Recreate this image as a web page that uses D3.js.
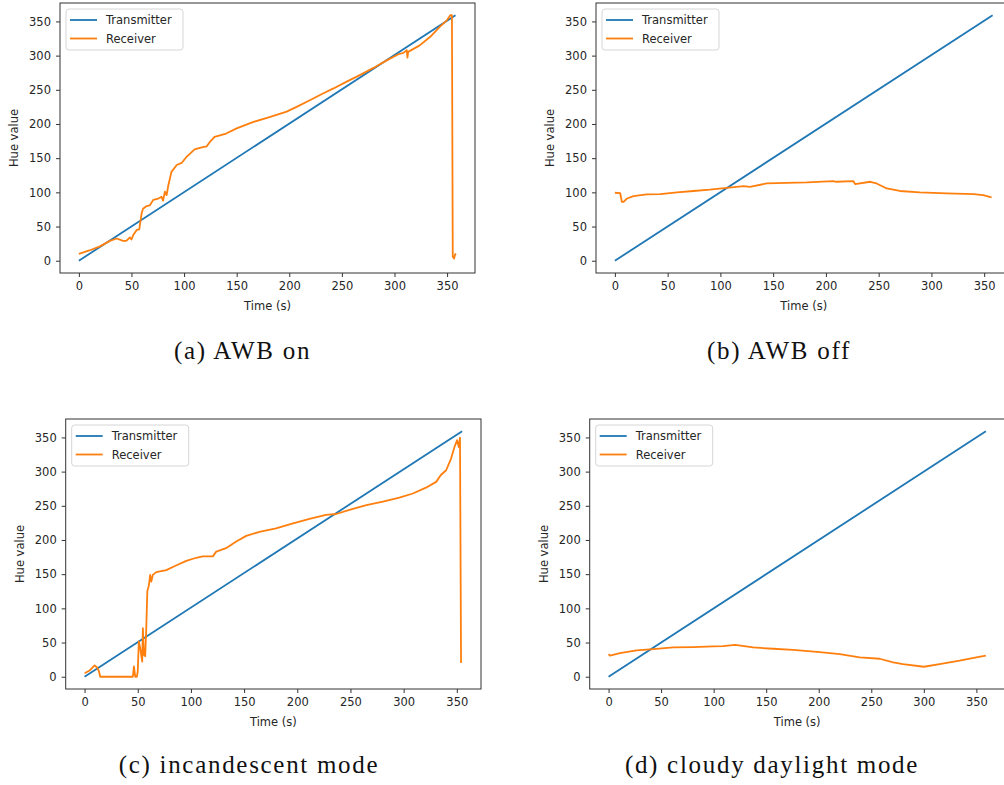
<!DOCTYPE html>
<html>
<head>
<meta charset="utf-8">
<script src="https://cdn.jsdelivr.net/npm/d3@7"></script>
<style>
  body { margin: 0; background: #fff; }
  svg { display: block; }
  .tick text { font-family: "DejaVu Sans", sans-serif; font-size: 11.5px; fill: #262626; }
  .tick line { stroke: #333; }
  .lbl { font-family: "DejaVu Sans", sans-serif; font-size: 11.5px; fill: #262626; }
  .caption { font-family: "Liberation Serif", serif; font-size: 25px; fill: #111; letter-spacing: 1.7px; }
</style>
</head>
<body>
<svg id="chart" width="1004" height="785"></svg>
<script>
// Hue of transmitter vs receiver over time, four camera white-balance modes.

const TICKS = [0, 50, 100, 150, 200, 250, 300, 350];
const SERIES = ["Transmitter", "Receiver"];
const COLORS = ["#1f77b4", "#ff7f0e"];

// (a) AWB on
const A_TX_T = [0, 358];
const A_TX_H = [0, 359];
const A_RX_T = [0, 10, 20, 29.5, 36, 42, 45, 48.5, 50, 51.7, 55, 57.4, 59.6, 61, 64.4, 67.5, 70.7, 75.5, 78.6, 80, 81.8, 83.4, 85, 88, 93, 97.7, 102.4, 110, 115, 120, 121.4, 124.6, 129, 140, 150, 166, 182, 197.5, 207, 220, 232, 242, 254.6, 267, 280, 292.6, 303.7, 308.5, 311.7, 312.3, 313, 324, 334, 343, 350, 353, 354.6, 355.4, 356.7, 357.5, 358.6];
const A_RX_H = [10, 15, 21, 29, 32.5, 29, 29, 34, 31, 37.5, 45, 46, 69, 76, 80, 81, 89, 91, 93.5, 88, 101, 96, 110, 130, 140, 143, 152, 163, 165, 167, 167, 174, 181, 186, 193.5, 203, 210.5, 218, 225, 235, 244.6, 252, 262, 271.5, 282, 293, 302, 304, 308, 297, 305.5, 315, 327.5, 342, 352, 359, 359, 6, 3, 9, 10];

// (b) AWB off
const B_TX_T = [0, 358];
const B_TX_H = [0, 359];
const B_RX_T = [0, 5, 6.6, 8.2, 11.4, 17.7, 30, 43, 58.8, 74.5, 90, 106, 122, 128, 144, 163, 182, 207, 210, 226, 227.7, 242, 248, 257.7, 270, 289, 314.6, 340, 349, 357];
const B_RX_H = [99.4, 99, 86, 86, 91, 94.5, 97, 97.5, 100, 102, 104, 106.7, 109, 108, 113, 114, 114.5, 116.5, 115.5, 116.5, 112, 115.5, 113, 105.7, 102, 100, 98.4, 97.5, 96, 92.6];

// (c) incandescent mode
const C_TX_T = [0, 355];
const C_TX_H = [0, 359];
const C_RX_T = [0, 4.7, 9.4, 11.6, 13.5, 14.7, 30, 45.4, 46.4, 47.6, 49.2, 50, 51, 52.3, 54.2, 54.8, 55.8, 57, 58, 59, 60.5, 61.7, 62.7, 64.2, 67.4, 76.8, 86, 95.6, 105, 111, 120.6, 123.8, 133, 142.6, 152, 164.5, 180, 196, 211.5, 227, 236.6, 249, 265, 280.5, 296, 308.7, 321, 330.6, 335, 340, 344.6, 347.8, 350.3, 351.9, 353, 354];
const C_RX_H = [5, 9, 16.5, 14, 8, 0, 0, 0, 15, 0, 0, 8, 51.6, 42, 22, 71, 32, 30, 71, 125, 134, 149, 139, 149, 153, 156, 162.6, 169.4, 174, 176, 176, 183, 188, 197.7, 206, 212, 217, 224.4, 230.8, 236.6, 238, 244, 251, 256, 262, 268, 276.5, 285, 295, 302, 319, 336, 346, 336, 349.6, 20];

// (d) cloudy daylight mode
const D_TX_T = [0, 359];
const D_TX_H = [0, 359];
const D_RX_T = [0, 1.3, 10.8, 26.6, 42.5, 61.5, 80.5, 99.6, 109, 120.5, 137.6, 156.6, 175.6, 201, 220, 239, 258, 270.8, 280, 300, 315, 334, 350, 359];
const D_RX_H = [33, 31, 34.6, 38.5, 40.4, 42.8, 43.3, 44.3, 44.8, 46.7, 42.8, 40.9, 39.4, 36, 33, 28.2, 26.3, 21, 18.5, 14.6, 18.5, 23.4, 28.2, 31];

const CAPTIONS = ["(a) AWB on", "(b) AWB off", "(c) incandescent mode", "(d) cloudy daylight mode"];

const panels = [
  { left: 60,    top: 3,   w: 415,   caption: CAPTIONS[0], capX: 242.5, capY: 359, tx: [A_TX_T, A_TX_H], rx: [A_RX_T, A_RX_H] },
  { left: 596,   top: 3,   w: 415.5, caption: CAPTIONS[1], capX: 779,   capY: 359, tx: [B_TX_T, B_TX_H], rx: [B_RX_T, B_RX_H] },
  { left: 65.7,  top: 419, w: 415.3, caption: CAPTIONS[2], capX: 249,   capY: 773, tx: [C_TX_T, C_TX_H], rx: [C_RX_T, C_RX_H] },
  { left: 589.7, top: 419, w: 415,   caption: CAPTIONS[3], capX: 772,   capY: 773, tx: [D_TX_T, D_TX_H], rx: [D_RX_T, D_RX_H] }
];
const PH = 270;

const svg = d3.select("#chart");

// matplotlib-style 5% padding on the data extent
function padded(vals) {
  const [lo, hi] = d3.extent(vals);
  const m = (hi - lo) * 0.05;
  return [lo - m, hi + m];
}

function drawPanel(p, i) {
  const g = svg.append("g").attr("transform", `translate(${p.left},${p.top})`);
  const allT = p.tx[0].concat(p.rx[0]);
  const allH = p.tx[1].concat(p.rx[1]);
  const x = d3.scaleLinear().domain(padded(allT)).range([0, p.w]);
  const y = d3.scaleLinear().domain(padded(allH)).range([PH, 0]);

  g.append("clipPath").attr("id", "clip" + i)
    .append("rect").attr("width", p.w).attr("height", PH);

  const line = d3.line().x(d => x(d[0])).y(d => y(d[1]));
  const plot = g.append("g").attr("clip-path", `url(#clip${i})`);
  [p.tx, p.rx].forEach((s, k) => {
    plot.append("path")
      .datum(d3.zip(s[0], s[1]))
      .attr("fill", "none")
      .attr("stroke", COLORS[k])
      .attr("stroke-width", 1.8)
      .attr("stroke-linejoin", "round")
      .attr("d", line);
  });

  // axes
  const xa = g.append("g").attr("transform", `translate(0,${PH})`)
    .call(d3.axisBottom(x).tickValues(TICKS).tickSize(4).tickPadding(5));
  const ya = g.append("g")
    .call(d3.axisLeft(y).tickValues(TICKS).tickSize(4).tickPadding(5));
  xa.select(".domain").remove();
  ya.select(".domain").remove();

  g.append("rect")
    .attr("width", p.w).attr("height", PH)
    .attr("fill", "none").attr("stroke", "#333").attr("stroke-width", 1);

  g.append("text").attr("class", "lbl")
    .attr("x", p.w / 2).attr("y", PH + 37)
    .attr("text-anchor", "middle")
    .text("Time (s)");

  g.append("text").attr("class", "lbl")
    .attr("transform", `translate(-46,${PH / 2}) rotate(-90)`)
    .attr("dy", "0.35em")
    .attr("text-anchor", "middle")
    .text("Hue value");

  // legend
  const lg = g.append("g").attr("transform", "translate(6,6)");
  lg.append("rect")
    .attr("width", 117).attr("height", 41).attr("rx", 3)
    .attr("fill", "#fff").attr("fill-opacity", 0.8)
    .attr("stroke", "#d6d6d6");
  SERIES.forEach((name, k) => {
    const yy = 11 + k * 18.5;
    lg.append("line")
      .attr("x1", 4).attr("x2", 31).attr("y1", yy).attr("y2", yy)
      .attr("stroke", COLORS[k]).attr("stroke-width", 1.8);
    lg.append("text").attr("class", "lbl")
      .attr("x", 40).attr("y", yy).attr("dy", "0.35em")
      .text(name);
  });

  svg.append("text").attr("class", "caption")
    .attr("x", p.capX).attr("y", p.capY)
    .attr("text-anchor", "middle")
    .text(p.caption);
}

panels.forEach(drawPanel);
</script>
</body>
</html>
